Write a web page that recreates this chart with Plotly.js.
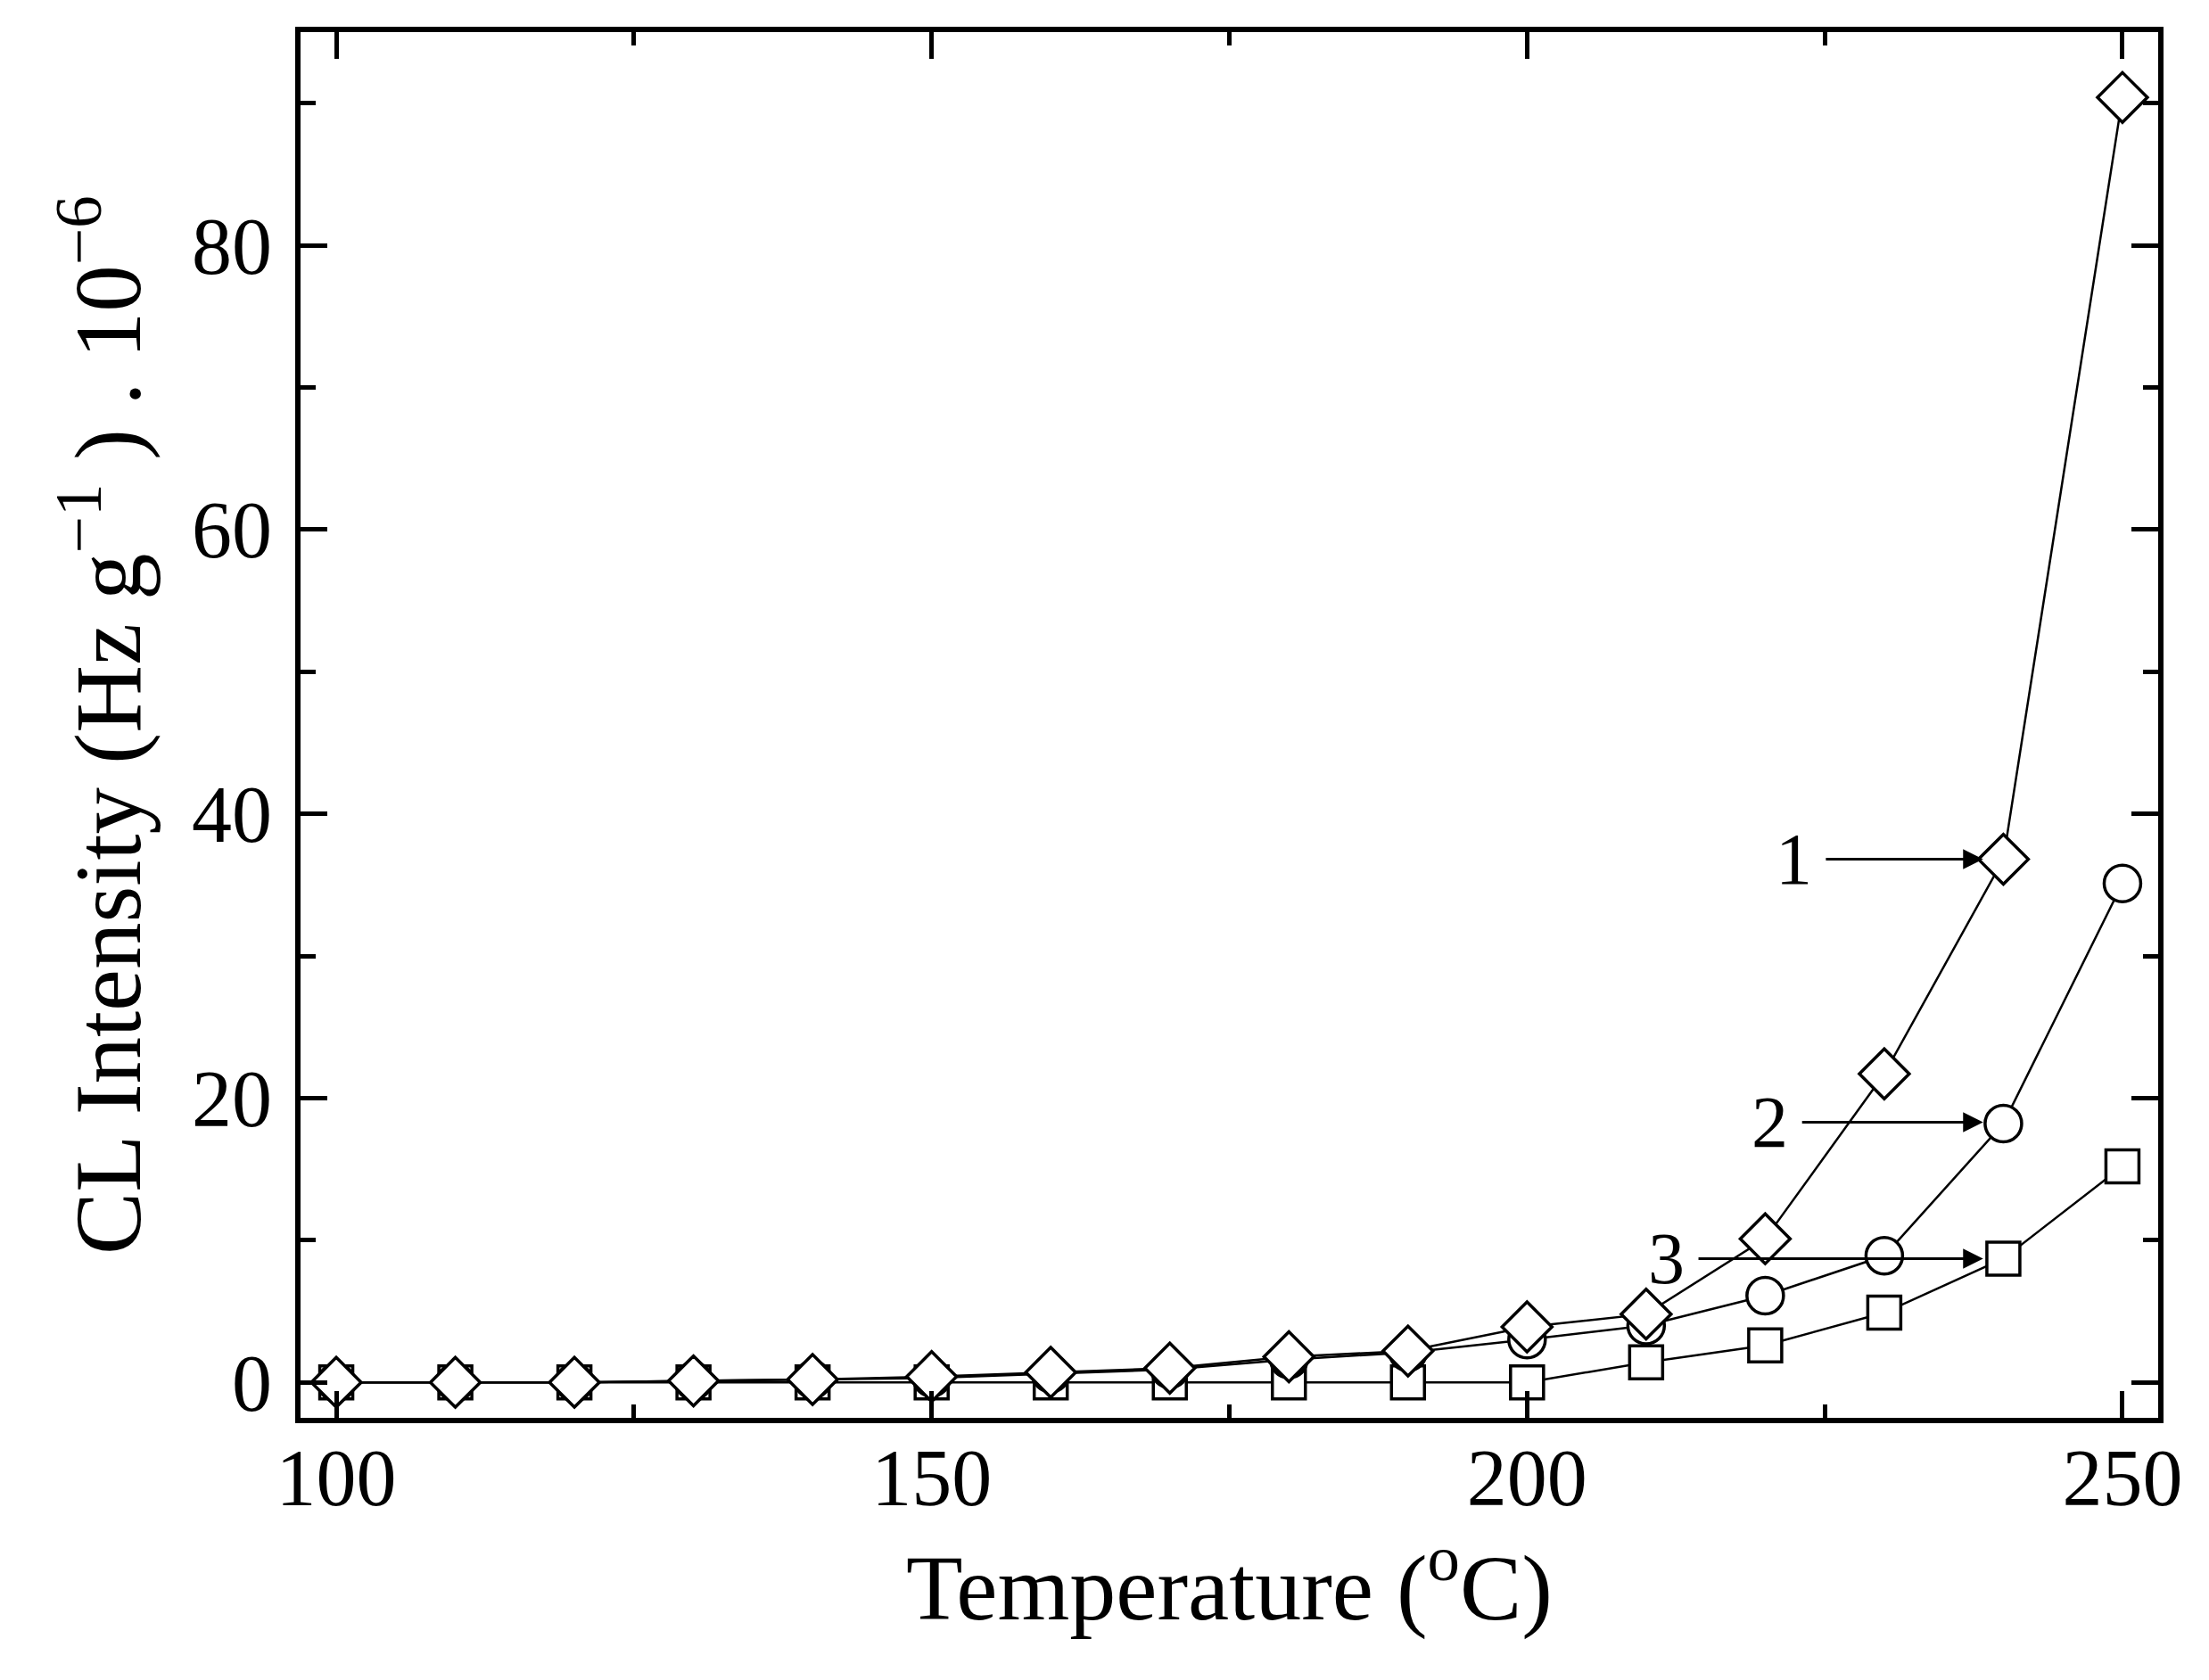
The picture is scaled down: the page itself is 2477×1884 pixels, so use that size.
<!DOCTYPE html>
<html>
<head>
<meta charset="utf-8">
<script src="https://cdn.plot.ly/plotly-3.0.1.min.js"></script>
<style>
  html, body { margin: 0; padding: 0; background: #fff; }
  #graph { width: 2477px; height: 1884px; }
</style>
</head>
<body>
<div id="graph"></div>
<script>
// temperature (deg C)
var temps = [100, 110, 120, 130, 140, 150, 160, 170, 180, 190, 200, 210, 220, 230, 240, 250];
// CL intensity, Hz g^-1 x 10^-6
var curve1 = [0, 0, 0, 0.1, 0.2, 0.4, 0.7, 1.0, 1.8, 2.2, 3.9, 4.8, 10.1, 21.7, 36.8, 90.4];
var curve2 = [0, 0, 0, 0.1, 0.2, 0.3, 0.6, 0.9, 1.6, 2.1, 3.0, 4.0, 6.1, 8.9, 18.2, 35.1];
var curve3 = [0, 0, 0, 0, 0, 0, 0, 0, 0, 0, 0, 1.4, 2.6, 4.9, 8.7, 15.2];

// labels and where their arrows point
var labelText = ["1", "2", "3"];
var labelX = [222.4, 220.4, 211.7];
var arrowX = [238.3, 238.3, 238.3];
var arrowY = [36.8, 18.3, 8.7];

var FONT = "Liberation Serif, Times New Roman, serif";

function series(y, sym, size) {
	return {
		x: temps, y: y, mode: "lines+markers", type: "scatter",
		line: {color: "black", width: 2.5},
		marker: {symbol: sym, size: size, color: "white", line: {color: "black", width: 3.5}},
		hoverinfo: "skip"
	};
}

var traces = [
	series(curve3, "square", 37),
	series(curve2, "circle", 41),
	series(curve1, "diamond", 43)
];

var annots = [];
for (var i = 0; i < labelText.length; i++) {
	annots.push({
		x: arrowX[i], y: arrowY[i], xref: "x", yref: "y",
		ax: labelX[i], ay: arrowY[i], axref: "x", ayref: "y",
		text: labelText[i], showarrow: true,
		arrowhead: 2, arrowsize: 1.5, arrowwidth: 3, arrowcolor: "black",
		startstandoff: 14,
		font: {family: FONT, size: 82, color: "black"}
	});
}

var axisCommon = {
	showline: true, linecolor: "black", linewidth: 6, mirror: "allticks",
	ticks: "inside", ticklen: 30, tickwidth: 5, tickcolor: "black",
	showgrid: false, zeroline: false,
	tickfont: {family: FONT, size: 90, color: "black"}
};

var layout = {
	width: 2477, height: 1884,
	margin: {l: 337, r: 57, t: 36, b: 294},
	paper_bgcolor: "white", plot_bgcolor: "white",
	showlegend: false,
	font: {family: FONT, color: "black"},
	xaxis: Object.assign({}, axisCommon, {
		range: [97, 253], tickvals: [100, 150, 200, 250], autorange: false,
		ticklabelstandoff: -16,
		minor: {tickvals: [125, 175, 225], ticks: "inside", ticklen: 15, tickwidth: 5, tickcolor: "black"},
		title: {text: "Temperature (<sup>o</sup>C)", font: {family: FONT, size: 104, color: "black"}, standoff: 34}
	}),
	yaxis: Object.assign({}, axisCommon, {
		range: [-2.5, 95], tickvals: [0, 20, 40, 60, 80], autorange: false,
		ticklabelstandoff: 8,
		minor: {tickvals: [10, 30, 50, 70, 90], ticks: "inside", ticklen: 17, tickwidth: 5, tickcolor: "black"},
		title: {text: "CL Intensity (Hz g<sup>\u22121</sup> ) . 10<sup>\u22126</sup>", font: {family: FONT, size: 105, color: "black"}, standoff: 24}
	}),
	annotations: annots
};

Plotly.newPlot("graph", traces, layout, {displayModeBar: false, staticPlot: true});
</script>
</body>
</html>
